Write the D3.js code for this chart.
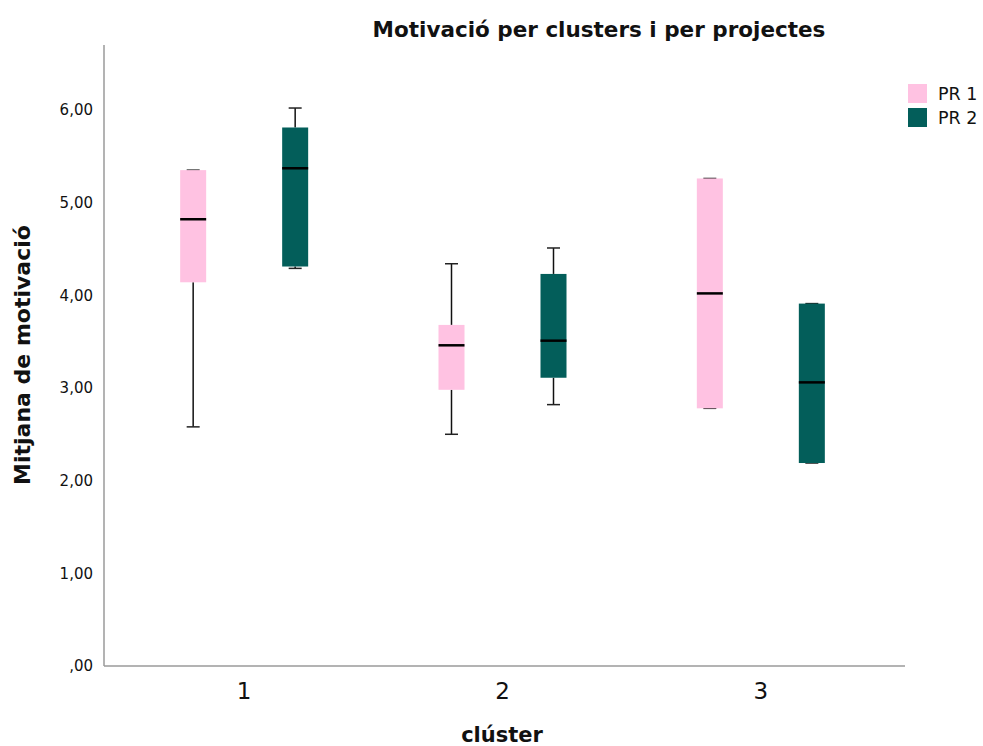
<!DOCTYPE html>
<html>
<head>
<meta charset="utf-8">
<script src="https://cdn.jsdelivr.net/npm/d3@7"></script>
<style>
  body { margin: 0; background: #fff; }
  svg text { font-family: "DejaVu Sans", sans-serif; fill: #111; }
</style>
</head>
<body>
<svg id="chart" width="983" height="746"></svg>
<script>
// Clusters and projects
const clusters = ["1", "2", "3"];
const projects = ["PR 1", "PR 2"];
const projectColors = ["#ffc2e2", "#035e5a"];

// Box-plot statistics per cluster, one array per project: [min, q1, median, q3, max]
const pr1Stats = [
  [2.58, 4.14, 4.82, 5.35, 5.35],
  [2.50, 2.98, 3.46, 3.68, 4.34],
  [2.78, 2.78, 4.02, 5.26, 5.26]
];
const pr2Stats = [
  [4.29, 4.31, 5.37, 5.81, 6.02],
  [2.82, 3.11, 3.51, 4.23, 4.51],
  [2.19, 2.19, 3.06, 3.91, 3.91]
];

const yTicks = [0, 1, 2, 3, 4, 5, 6];
const yTickLabels = [",00", "1,00", "2,00", "3,00", "4,00", "5,00", "6,00"];

const title = "Motivació per clusters i per projectes";
const xTitle = "clúster";
const yTitle = "Mitjana de motivació";

const svg = d3.select("#chart");

const plot = { left: 104, right: 905, top: 45, bottom: 666 };

const y = d3.scaleLinear().domain([0, 6.7]).range([plot.bottom, plot.top]);
const x = d3.scaleBand().domain(clusters).range([115, 890]).padding(0);
const xInner = d3.scalePoint().domain(projects).range([-51, 51]);

const boxWidth = 26;
const capWidth = 13;

// Axes lines
svg.append("line")
  .attr("x1", plot.left).attr("x2", plot.left)
  .attr("y1", plot.top).attr("y2", plot.bottom)
  .attr("stroke", "#9a9a9a").attr("stroke-width", 1.5);
svg.append("line")
  .attr("x1", plot.left).attr("x2", plot.right)
  .attr("y1", plot.bottom).attr("y2", plot.bottom)
  .attr("stroke", "#9a9a9a").attr("stroke-width", 1.5);

// Y tick labels
svg.append("g").selectAll("text")
  .data(yTicks)
  .join("text")
  .attr("x", 93)
  .attr("y", d => y(d))
  .attr("dy", "0.35em")
  .attr("text-anchor", "end")
  .attr("font-size", 15)
  .text((d, i) => yTickLabels[i]);

// X tick labels
svg.append("g").selectAll("text")
  .data(clusters)
  .join("text")
  .attr("x", d => x(d) + x.bandwidth() / 2)
  .attr("y", 699)
  .attr("text-anchor", "middle")
  .attr("font-size", 23)
  .text(d => d);

// Boxes
const series = [pr1Stats, pr2Stats];
const boxData = [];
series.forEach((stats, p) => {
  stats.forEach((s, c) => {
    boxData.push({ cluster: clusters[c], project: projects[p], color: projectColors[p],
      min: s[0], q1: s[1], med: s[2], q3: s[3], max: s[4] });
  });
});

const g = svg.append("g").selectAll("g")
  .data(boxData)
  .join("g")
  .attr("transform", d => `translate(${x(d.cluster) + x.bandwidth() / 2 + xInner(d.project)},0)`);

// whiskers
g.append("line")
  .attr("x1", 0).attr("x2", 0)
  .attr("y1", d => y(d.q3)).attr("y2", d => y(d.max))
  .attr("stroke", "#111").attr("stroke-width", 1.5);
g.append("line")
  .attr("x1", 0).attr("x2", 0)
  .attr("y1", d => y(d.q1)).attr("y2", d => y(d.min))
  .attr("stroke", "#111").attr("stroke-width", 1.5);
// caps
g.append("line")
  .attr("x1", -capWidth / 2).attr("x2", capWidth / 2)
  .attr("y1", d => y(d.max)).attr("y2", d => y(d.max))
  .attr("stroke", "#222").attr("stroke-width", 1.5);
g.append("line")
  .attr("x1", -capWidth / 2).attr("x2", capWidth / 2)
  .attr("y1", d => y(d.min)).attr("y2", d => y(d.min))
  .attr("stroke", "#222").attr("stroke-width", 1.5);
// box
g.append("rect")
  .attr("x", -boxWidth / 2)
  .attr("width", boxWidth)
  .attr("y", d => y(d.q3))
  .attr("height", d => y(d.q1) - y(d.q3))
  .attr("fill", d => d.color);
// median
g.append("line")
  .attr("x1", -boxWidth / 2).attr("x2", boxWidth / 2)
  .attr("y1", d => y(d.med)).attr("y2", d => y(d.med))
  .attr("stroke", "#000").attr("stroke-width", 2.5);

// Legend
const legend = svg.append("g").selectAll("g")
  .data(projects)
  .join("g")
  .attr("transform", (d, i) => `translate(908,${84 + i * 24})`);
legend.append("rect")
  .attr("width", 19).attr("height", 19)
  .attr("fill", (d, i) => projectColors[i]);
legend.append("text")
  .attr("x", 30).attr("y", 10)
  .attr("dy", "0.35em")
  .attr("font-size", 17.5)
  .text(d => d);

// Titles
svg.append("text")
  .attr("x", 599).attr("y", 37)
  .attr("text-anchor", "middle")
  .attr("font-size", 21.5).attr("font-weight", "bold")
  .text(title);
svg.append("text")
  .attr("x", 502).attr("y", 742)
  .attr("text-anchor", "middle")
  .attr("font-size", 21).attr("font-weight", "bold")
  .text(xTitle);
svg.append("text")
  .attr("transform", "translate(30,355) rotate(-90)")
  .attr("text-anchor", "middle")
  .attr("font-size", 22).attr("font-weight", "bold")
  .text(yTitle);
</script>
</body>
</html>
